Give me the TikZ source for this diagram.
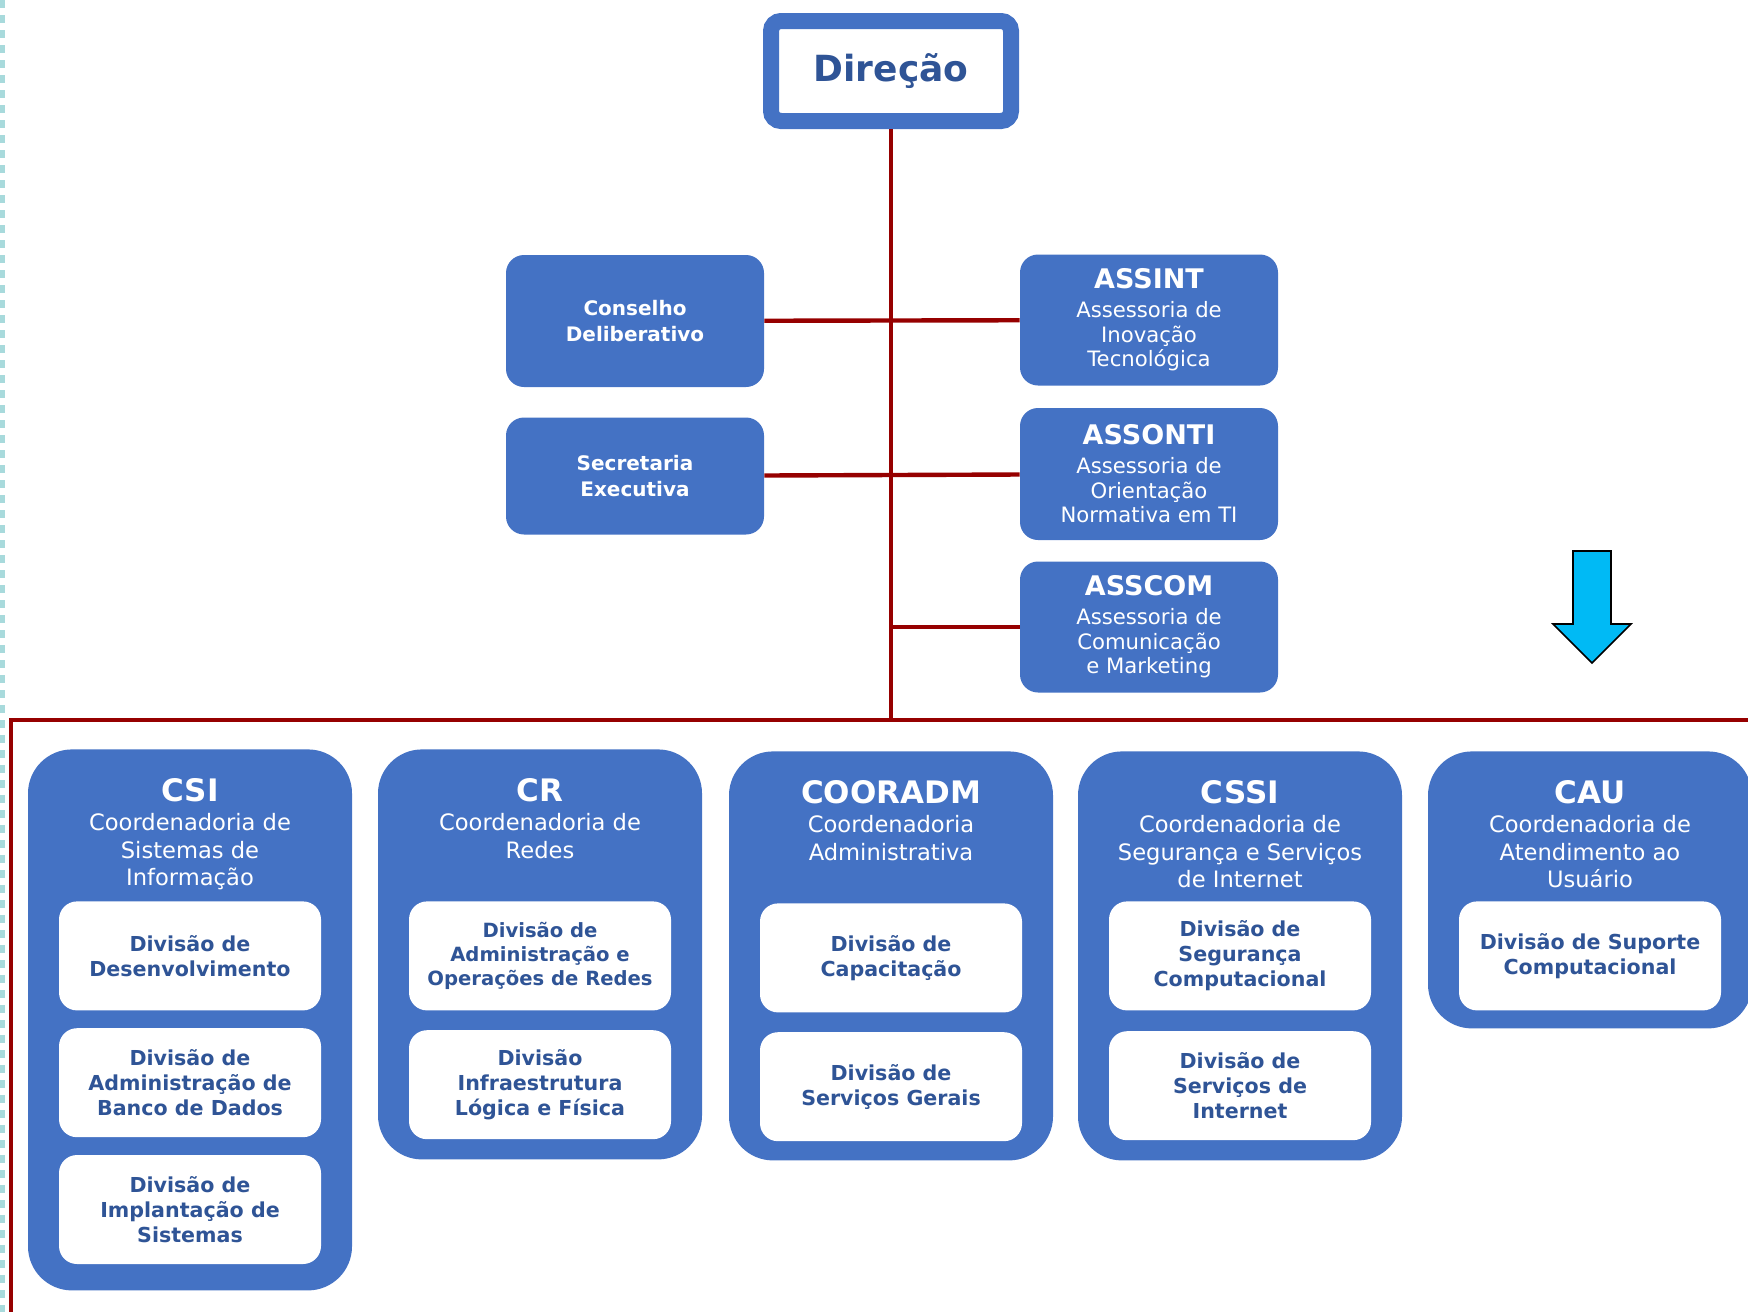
\documentclass[tikz,border=0pt]{standalone}
\usepackage{fontspec}
\setmainfont{DejaVu Sans}
\usepackage{tikz}
\usetikzlibrary{positioning}
\definecolor{orgblue}{RGB}{68,114,196}
\definecolor{orgtext}{RGB}{47,84,150}
\definecolor{orgred}{RGB}{150,0,0}
\definecolor{orgcyan}{RGB}{0,186,245}
\definecolor{orgedge}{RGB}{168,218,220}
\newcommand{\unittitle}[1]{{\fontsize{13.5}{16}\selectfont\bfseries #1}}
\newcommand{\coordtitle}[1]{{\fontsize{15.5}{18}\selectfont\bfseries #1}}

\begin{document}
\begin{tikzpicture}[x=0.5pt,y=-0.5pt]
    \tikzstyle{headbox}=[shape=rectangle,draw=orgblue,line width=8pt,fill=white,rounded corners=5pt,minimum width=120pt,minimum height=50pt,text=orgtext,font=\fontsize{18}{22}\selectfont\bfseries]
    \tikzstyle{unitbox}=[shape=rectangle,fill=orgblue,rounded corners=9pt,minimum width=129pt,inner sep=0pt,text=white,align=center,font=\fontsize{10.6}{12.3}\selectfont]
    \tikzstyle{coordbox}=[shape=rectangle,fill=orgblue,rounded corners=22pt,minimum width=162pt,inner sep=0pt,anchor=north]
    \tikzstyle{coordhead}=[inner sep=0pt,outer sep=0pt,text=white,align=center,font=\fontsize{11.3}{13.75}\selectfont]
    \tikzstyle{divbox}=[shape=rectangle,fill=white,rounded corners=9pt,minimum width=131pt,minimum height=54.5pt,inner sep=0pt,text=orgtext,align=center,font=\fontsize{10.3}{12.5}\selectfont\bfseries]
    \tikzstyle{link}=[draw=orgred,line width=2.2pt]

    \useasboundingbox (0,0) rectangle (1748,1312);
    \draw[orgedge, line width=2.5pt, dash pattern=on 4pt off 3.5pt] (2.5,0) -- (2.5,1312);

    \node[headbox] (dir) at (891,71) {Direção};
    \node[unitbox, minimum height=65.5pt] (assint) at (1149,320) {\unittitle{ASSINT}\\[2.2pt]Assessoria de\\Inovação\\Tecnológica};
    \node[unitbox, minimum height=66pt] (assonti) at (1149,474) {\unittitle{ASSONTI}\\[2.2pt]Assessoria de\\Orientação\\Normativa em TI};
    \node[unitbox, minimum height=65.5pt] (asscom) at (1149,627) {\unittitle{ASSCOM}\\[2.2pt]Assessoria de\\Comunicação\\e Marketing};
    \node[unitbox, minimum height=66pt, font=\fontsize{10}{12.8}\selectfont\bfseries] (consel) at (635,321) {Conselho\\Deliberativo};
    \node[unitbox, minimum height=58.5pt, font=\fontsize{10}{12.8}\selectfont\bfseries] (secr) at (635,476) {Secretaria\\Executiva};

    \node[coordbox, minimum height=270.5pt] (csi) at (190,749) {};
    \node[coordbox, minimum height=205pt] (cr) at (540,749) {};
    \node[coordbox, minimum height=204.5pt] (cooradm) at (891,751) {};
    \node[coordbox, minimum height=204.5pt] (cssi) at (1240,751) {};
    \node[coordbox, minimum height=138.5pt] (cau) at (1590,751) {};

    \node[coordhead, below=14.5pt of csi.north] (csih) {\coordtitle{CSI}\\[1pt]Coordenadoria de\\Sistemas de\\Informação};
    \node[coordhead, below=14.5pt of cr.north] (crh) {\coordtitle{CR}\\[1pt]Coordenadoria de\\Redes};
    \node[coordhead, below=14.5pt of cooradm.north] (cooradmh) {\coordtitle{COORADM}\\[1pt]Coordenadoria\\Administrativa};
    \node[coordhead, below=14.5pt of cssi.north] (cssih) {\coordtitle{CSSI}\\[1pt]Coordenadoria de\\Segurança e Serviços\\de Internet};
    \node[coordhead, below=14.5pt of cau.north] (cauh) {\coordtitle{CAU}\\[1pt]Coordenadoria de\\Atendimento ao\\Usuário};

    \node[divbox, below=76pt of csi.north] (csi1) {Divisão de\\Desenvolvimento};
    \node[divbox, below=8.5pt of csi1] (csi2) {Divisão de\\Administração de\\Banco de Dados};
    \node[divbox, below=8.5pt of csi2] (csi3) {Divisão de\\Implantação de\\Sistemas};
    \node[divbox, below=76pt of cr.north, font=\fontsize{9.8}{12}\selectfont\bfseries] (cr1) {Divisão de\\Administração e\\Operações de Redes};
    \node[divbox, below=9.5pt of cr1] (cr2) {Divisão\\Infraestrutura\\Lógica e Física};
    \node[divbox, below=76pt of cooradm.north] (cooradm1) {Divisão de\\Capacitação};
    \node[divbox, below=9.5pt of cooradm1] (cooradm2) {Divisão de\\Serviços Gerais};
    \node[divbox, below=75pt of cssi.north] (cssi1) {Divisão de\\Segurança\\Computacional};
    \node[divbox, below=10pt of cssi1] (cssi2) {Divisão de\\Serviços de\\Internet};
    \node[divbox, below=75pt of cau.north] (cau1) {Divisão de Suporte\\Computacional};

    \coordinate (bus) at (891,720);
    \coordinate (busL) at (11,720);
    \coordinate (busR) at (1748,720);
    \coordinate (busB) at (11,1312);

    \path[link]
    (dir) edge (bus)
    (consel) edge (assint)
    (secr) edge (assonti)
    ;
    \draw[link] (asscom.west) -- (asscom.west -| bus);
    \draw[link] (busR) -- (busL) -- (busB);

    \draw[fill=orgcyan, draw=black, line width=0.8pt, line join=miter] (1573,551) -- (1611,551) -- (1611,624) -- (1631,624) -- (1592,663) -- (1553,624) -- (1573,624) -- cycle;
\end{tikzpicture}
\end{document}
